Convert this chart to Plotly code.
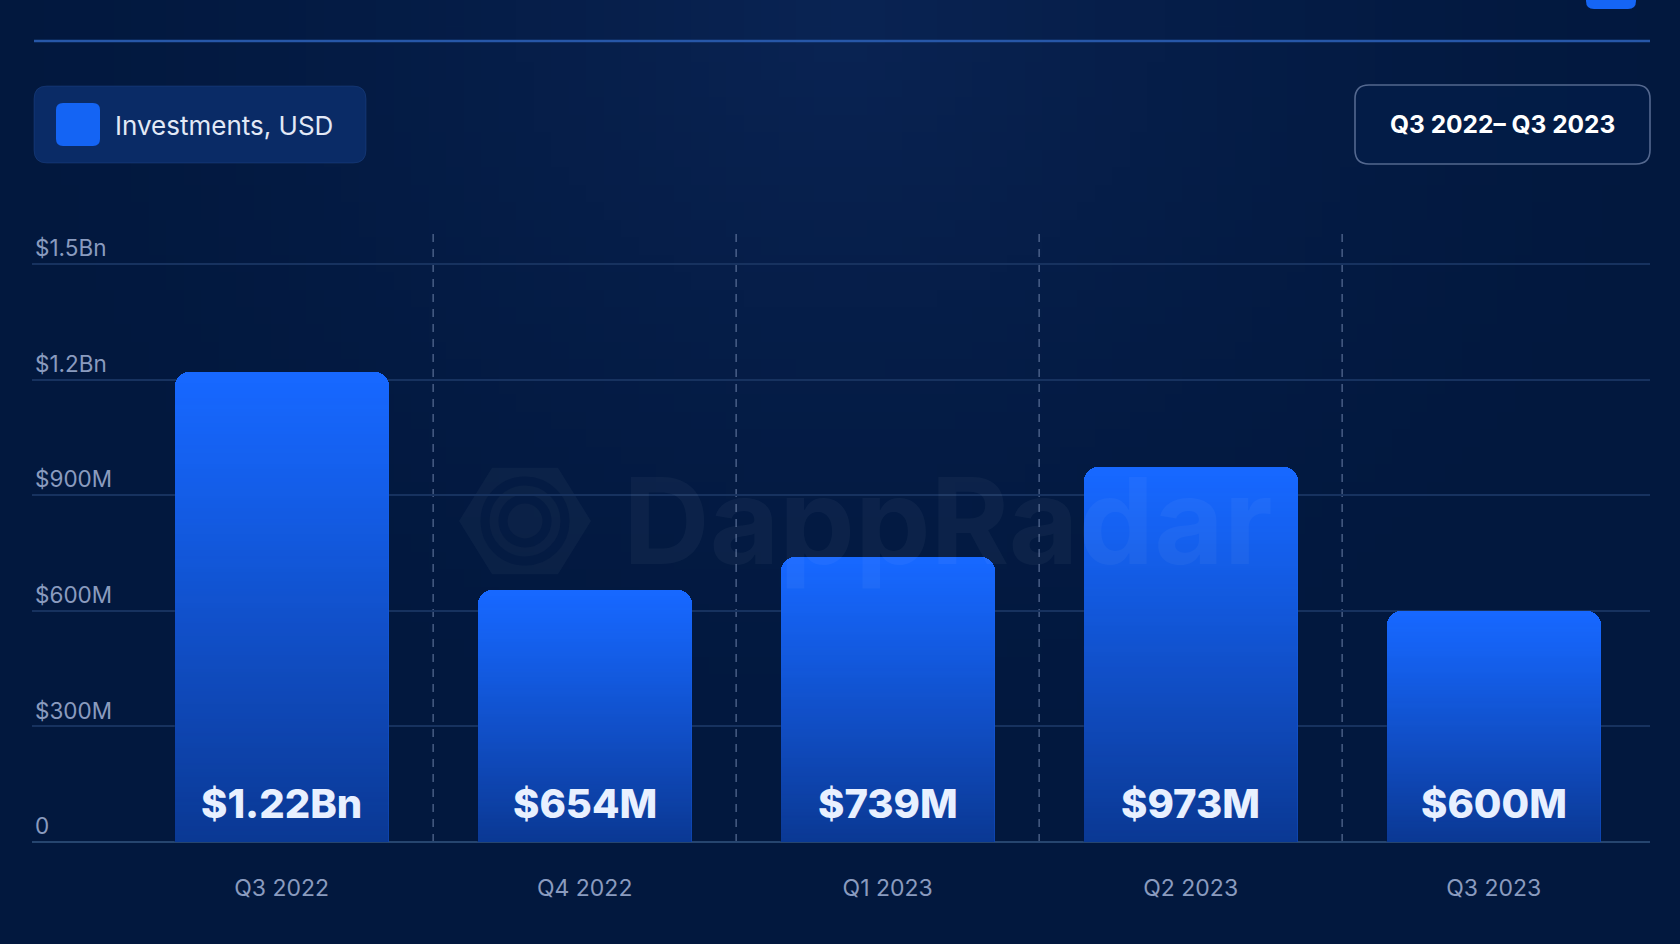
import base64, struct, zlib, math
import plotly.graph_objects as go

# ---------------- data ----------------
QUARTERS = ["Q3 2022", "Q4 2022", "Q1 2023", "Q2 2023", "Q3 2023"]
INVEST_M = [1220, 654, 739, 973, 600]          # millions USD
VALUE_LABELS = ["$1.22Bn", "$654M", "$739M", "$973M", "$600M"]
Y_TICKS = [0, 300, 600, 900, 1200, 1500]
Y_TICK_TEXT = ["0", "$300M", "$600M", "$900M", "$1.2Bn", "$1.5Bn"]
LEGEND_NAME = "Investments, USD"
PERIOD = "Q3 2022\u2013 Q3 2023"

# ---------------- geometry / style ----------------
W, H = 1680, 944
ML, MR, MT, MB = 32, 30, 234, 102
PW, PH = W - ML - MR, H - MT - MB
BAR_W = 0.707
X_RANGE = [-0.824, 4.516]
Y_MAX = 1578
FONT = "Inter"


def px(x):
    return (x - ML) / PW


def py(y):
    return (H - MB - y) / PH


def png_uri(w, h, fn):
    rows = []
    for j in range(h):
        row = bytearray([0])
        for i in range(w):
            row.extend(fn(i, j))
        rows.append(bytes(row))
    raw = b"".join(rows)

    def chunk(tag, data):
        return struct.pack(">I", len(data)) + tag + data + struct.pack(">I", zlib.crc32(tag + data) & 0xffffffff)

    png = (b"\x89PNG\r\n\x1a\n" + chunk(b"IHDR", struct.pack(">IIBBBBB", w, h, 8, 6, 0, 0, 0))
           + chunk(b"IDAT", zlib.compress(raw)) + chunk(b"IEND", b""))
    return "data:image/png;base64," + base64.b64encode(png).decode()


# vertical shading for the bars (transparent at top -> navy at bottom)
def bar_shade(i, j, h=64):
    t = j / (h - 1)
    a = int(255 * 0.58 * t ** 1.1)
    return (2, 22, 70, a)


BAR_SHADE = png_uri(2, 64, bar_shade)


# background glow
def bg_fn(i, j, w=96, h=54):
    x = i / (w - 1)
    y = j / (h - 1)
    d = (((x - 0.5) * 1.6) ** 2 + ((y - 0.02) * 1.0) ** 2) ** 0.5
    f = max(0.0, 1 - d / 0.9) ** 1.6
    base = (2, 24, 62)
    glow = (10, 36, 84)
    c = [int(base[k] + (glow[k] - base[k]) * f) for k in range(3)]
    return (c[0], c[1], c[2], 255)


BG_IMG = png_uri(96, 54, bg_fn)


def rrect(x0, y0, x1, y1, r):
    """rounded rectangle path in paper coords from pixel coords"""
    pts = [
        f"M {px(x0 + r)},{py(y0)}",
        f"L {px(x1 - r)},{py(y0)}",
        f"Q {px(x1)},{py(y0)} {px(x1)},{py(y0 + r)}",
        f"L {px(x1)},{py(y1 - r)}",
        f"Q {px(x1)},{py(y1)} {px(x1 - r)},{py(y1)}",
        f"L {px(x0 + r)},{py(y1)}",
        f"Q {px(x0)},{py(y1)} {px(x0)},{py(y1 - r)}",
        f"L {px(x0)},{py(y0 + r)}",
        f"Q {px(x0)},{py(y0)} {px(x0 + r)},{py(y0)}",
        "Z",
    ]
    return " ".join(pts)


idx = list(range(len(QUARTERS)))

fig = go.Figure()
fig.add_trace(go.Bar(
    x=idx, y=INVEST_M, width=BAR_W, name=LEGEND_NAME,
    marker=dict(color="#1768ff", cornerradius=14, line=dict(width=0)),
    showlegend=False, hoverinfo="skip",
))

shapes = []
# watermark hexagon + swirl (below traces)
cx, cy, r = 525, 521, 66
hexpts = [(cx + r * math.cos(math.radians(a)), cy + r * 0.93 * math.sin(math.radians(a))) for a in range(0, 360, 60)]
path = "M " + " L ".join(f"{px(x)},{py(y)}" for x, y in hexpts) + " Z"
shapes.append(dict(type="path", path=path, xref="paper", yref="paper", layer="below",
                   fillcolor="rgba(255,255,255,0.035)", line=dict(width=0)))
for rr in (40, 22):
    shapes.append(dict(type="circle", xref="paper", yref="paper", layer="below",
                       x0=px(cx - rr), x1=px(cx + rr), y0=py(cy + rr), y1=py(cy - rr),
                       line=dict(color="rgba(3,26,66,0.75)", width=9)))

# dashed separators between categories
for k in range(len(QUARTERS) - 1):
    shapes.append(dict(type="line", xref="x", yref="paper", x0=k + 0.5, x1=k + 0.5, y0=0, y1=1,
                       layer="below", line=dict(color="rgba(130,150,190,0.55)", width=1.5, dash="8px,7px")))

# top divider line
shapes.append(dict(type="line", xref="paper", yref="paper", x0=px(34), x1=px(1650), y0=py(41), y1=py(41),
                   line=dict(color="#2757a8", width=2.5)))
# partial blue square at top right
shapes.append(dict(type="path", path=rrect(1586, -40, 1636, 9, 8), xref="paper", yref="paper",
                   fillcolor="#1565f5", line=dict(width=0)))
# legend box
shapes.append(dict(type="path", path=rrect(34, 86, 366, 163, 13), xref="paper", yref="paper",
                   fillcolor="#0a2b66", line=dict(color="rgba(40,80,150,0.35)", width=1)))
shapes.append(dict(type="path", path=rrect(56, 103, 100, 146, 7), xref="paper", yref="paper",
                   fillcolor="#1464f4", line=dict(width=0)))
# period box
shapes.append(dict(type="path", path=rrect(1355, 85, 1650, 164, 14), xref="paper", yref="paper",
                   fillcolor="rgba(4,30,75,0.6)", line=dict(color="#54688f", width=1.6)))

annotations = []
annotations.append(dict(text="DappRadar", xref="paper", yref="paper", x=px(621), y=py(520),
                        xanchor="left", yanchor="middle", showarrow=False,
                        font=dict(family=FONT, size=120, color="rgba(255,255,255,0.04)", weight=700)))
annotations.append(dict(text=LEGEND_NAME, xref="paper", yref="paper", x=px(113), y=py(125),
                        xanchor="left", yanchor="middle", showarrow=False,
                        font=dict(family=FONT, size=26, color="#e2e9f6")))
annotations.append(dict(text=PERIOD, xref="paper", yref="paper", x=px(1502), y=py(124),
                        xanchor="center", yanchor="middle", showarrow=False,
                        font=dict(family=FONT, size=24.5, color="#ffffff", weight=700)))
for i, lab in zip(idx, VALUE_LABELS):
    annotations.append(dict(text=lab, x=i, y=0, xref="x", yref="y", yshift=39,
                            xanchor="center", yanchor="middle", showarrow=False,
                            font=dict(family=FONT, size=40, color="#e8f0ff", weight=800)))

images = [dict(source=BG_IMG, xref="paper", yref="paper", x=px(0), y=py(0),
               sizex=W / PW, sizey=H / PH, xanchor="left", yanchor="top",
               sizing="stretch", layer="below")]
for i, v in zip(idx, INVEST_M):
    images.append(dict(source=BAR_SHADE, xref="x", yref="y", x=i, y=v, sizex=BAR_W, sizey=v,
                       xanchor="center", yanchor="top", sizing="stretch", layer="above"))

fig.update_layout(
    width=W, height=H,
    margin=dict(l=ML, r=MR, t=MT, b=MB, pad=0),
    paper_bgcolor="#031a42", plot_bgcolor="rgba(0,0,0,0)",
    shapes=shapes, annotations=annotations, images=images,
    showlegend=False, bargap=0,
    font=dict(family=FONT),
    xaxis=dict(range=X_RANGE, tickvals=idx, ticktext=QUARTERS, showgrid=False, zeroline=False,
               showline=False, ticks="", ticklabelstandoff=30,
               tickfont=dict(family=FONT, size=23, color="#8a9bbf"), fixedrange=True),
    yaxis=dict(range=[0, Y_MAX], tickvals=Y_TICKS, ticktext=Y_TICK_TEXT, ticklabelposition="inside top",
               showgrid=True, gridcolor="#17325f", gridwidth=1.5,
               zeroline=True, zerolinecolor="#26456f", zerolinewidth=2, showline=False, ticks="",
               tickfont=dict(family=FONT, size=22.5, color="#8a9bbf"), fixedrange=True),
)

fig.write_html(
    "out.html",
    config={"displayModeBar": False},
    post_script="document.body.style.margin='0';document.body.style.background='#031a42';",
)
